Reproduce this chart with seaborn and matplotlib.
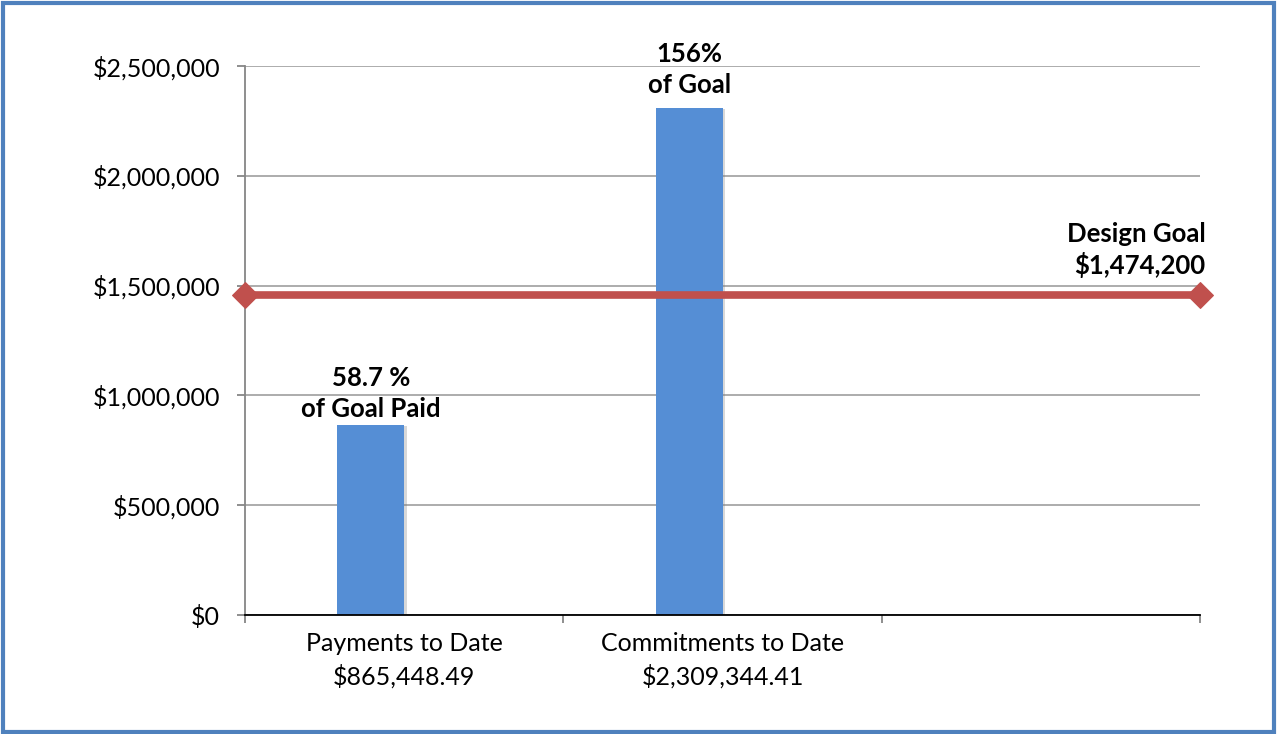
import matplotlib
matplotlib.use("Agg")
import matplotlib.pyplot as plt
import matplotlib.patheffects as pe
from matplotlib.patches import Rectangle
from matplotlib.ticker import FuncFormatter, FixedLocator
import seaborn as sns
import pandas as pd

# ---- data ----
categories = ["Payments to Date\n$865,448.49", "Commitments to Date\n$2,309,344.41"]
values = [865448.49, 2309344.41]
hidden_values = [0, 0]          # empty second series (as in the original clustered chart)
bar_labels = ["58.7 %\nof Goal Paid", "156%\nof Goal"]
goal_value = 1458000
goal_label = "Design Goal\n$1,474,200"
y_ticks = [0, 500000, 1000000, 1500000, 2000000, 2500000]

sns.set_theme(style="white")
plt.rcParams['font.family'] = ['Lato', 'DejaVu Sans']

fig = plt.figure(figsize=(12.78, 7.34), dpi=100)
ax = fig.add_axes([245/1278, 1-615/734, (1200-245)/1278, (615-66)/734])

df = pd.DataFrame({
    "cat": categories * 2,
    "val": values + hidden_values,
    "series": ["Amount"] * len(values) + ["Hidden"] * len(hidden_values),
})
sns.barplot(data=df, x="cat", y="val", hue="series", hue_order=["Amount", "Hidden"],
            palette={"Amount": "#558ED5", "Hidden": "#558ED5"}, saturation=1, width=0.42,
            ax=ax, legend=False, zorder=2)
for p in ax.patches:
    p.set_linewidth(0)
    p.set_path_effects([pe.SimplePatchShadow(offset=(2, -1), shadow_rgbFace="#7f7f7f", alpha=0.3), pe.Normal()])

# goal line
line_df = pd.DataFrame({"x": [-0.5, 2.5], "y": [goal_value, goal_value]})
sns.lineplot(data=line_df, x="x", y="y", ax=ax, color="#C0504D", linewidth=5.5,
             marker="D", markersize=13, markeredgecolor="#C0504D", zorder=4, clip_on=False)

ax.set_xlim(-0.5, 2.5)
ax.set_ylim(0, 2500000)
ax.set_xlabel("")
ax.set_ylabel("")

ax.yaxis.set_major_locator(FixedLocator(y_ticks))
ax.yaxis.set_major_formatter(FuncFormatter(lambda v, p: f"${v:,.0f}"))
ax.grid(axis="y", color="#A6A6A6", linewidth=1.3, zorder=0)
ax.set_axisbelow(True)

ax.set_xticks([0, 1])
ax.set_xticklabels(categories)
ax.set_xticks([-0.5, 0.5, 1.5, 2.5], minor=True)
ax.tick_params(axis="x", which="major", length=0, pad=12, labelsize=18, colors="black")
ax.tick_params(axis="x", which="minor", length=6, width=1.3, color="#868686", direction="out", bottom=True)
ax.tick_params(axis="y", which="major", length=6, width=1.3, color="#868686", direction="out",
               left=True, labelsize=18, pad=12, labelcolor="black")
for lab in ax.get_xticklabels():
    lab.set_linespacing(1.45)

for s in ["top", "right"]:
    ax.spines[s].set_visible(False)
ax.spines["left"].set_color("#868686")
ax.spines["left"].set_linewidth(1.3)
ax.spines["bottom"].set_color("black")
ax.spines["bottom"].set_linewidth(1.3)

# annotations above the visible bars
label_offsets = [3, 8]
bar_centers = [p.get_x() + p.get_width() / 2 for p in ax.patches[:len(values)]]
for xc, v, t, off in zip(bar_centers, values, bar_labels, label_offsets):
    ax.annotate(t, xy=(xc, v), xytext=(0, off), textcoords="offset points", ha="center", va="bottom",
                fontsize=18.5, fontweight="bold", linespacing=1.32, color="black")
ax.annotate(goal_label, xy=(2.5, goal_value), xytext=(4, 12), textcoords="offset points",
            ha="right", va="bottom", fontsize=18.5, fontweight="bold", linespacing=1.28, color="black",
            annotation_clip=False)

# figure border
fig.patches.append(Rectangle((0.002, 0.003), 0.995, 0.993, transform=fig.transFigure,
                             fill=False, edgecolor="#4F81BD", linewidth=3))

fig.savefig("out.png", dpi=100)
